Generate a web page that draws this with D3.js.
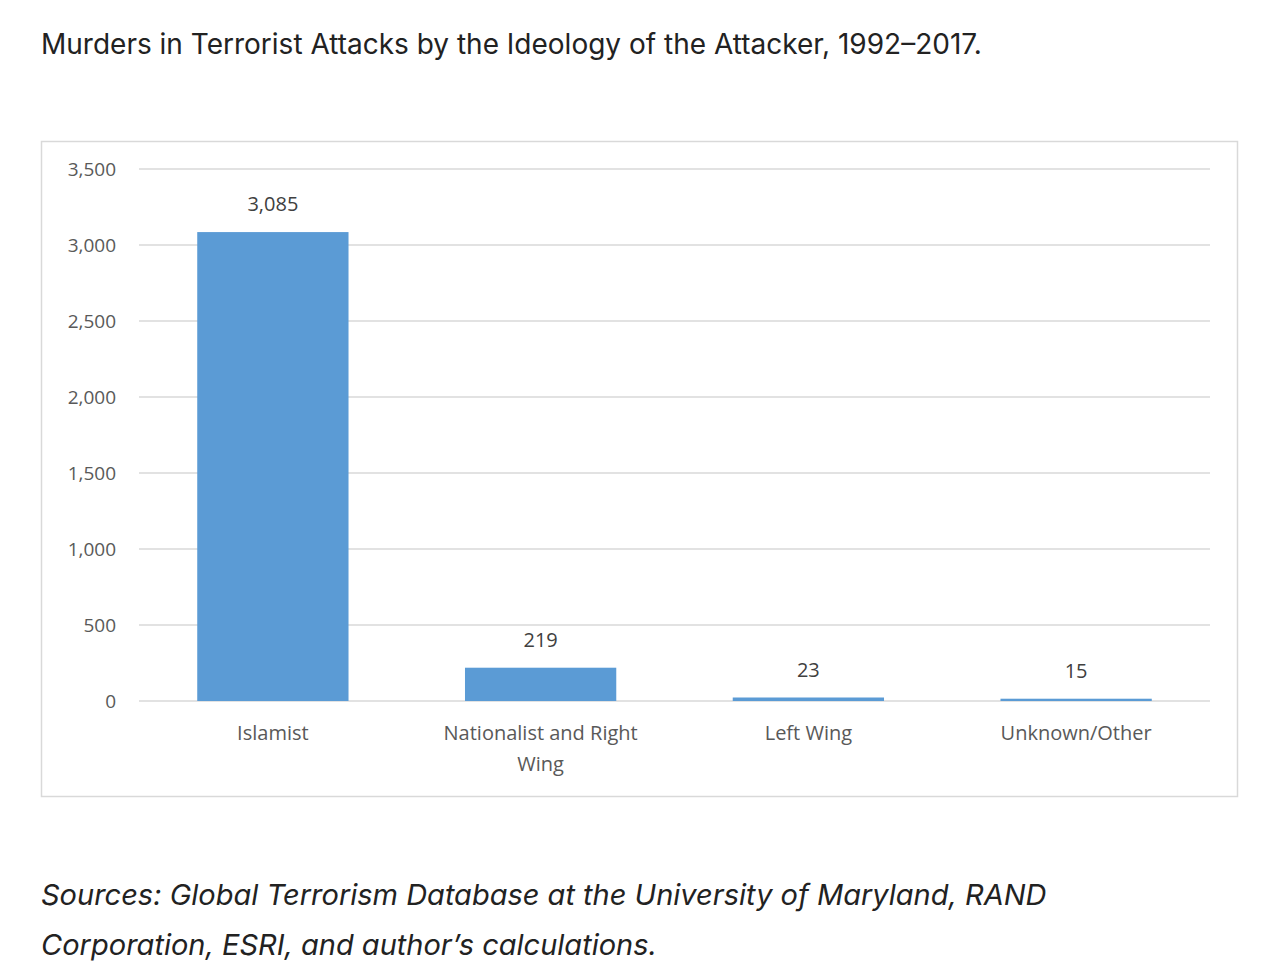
<!DOCTYPE html>
<html>
<head>
<meta charset="utf-8">
<script src="https://cdn.jsdelivr.net/npm/d3@7"></script>
<style>
  body { margin: 0; background: #fff; }
  svg text { font-family: "Open Sans", "Noto Sans", sans-serif; }
  svg text.inter { font-family: "Inter", "Inter Variable", "Inter Display", Roboto, sans-serif; }
</style>
</head>
<body>
<svg id="chart" width="1280" height="978"></svg>
<script>
var categories = ["Islamist", "Nationalist and Right Wing", "Left Wing", "Unknown/Other"];
var values = [3085, 219, 23, 15];
var valueLabels = ["3,085", "219", "23", "15"];
var yTicks = [0, 500, 1000, 1500, 2000, 2500, 3000, 3500];

var svg = d3.select("#chart");

svg.append("text").attr("class", "inter")
  .attr("x", 41).attr("y", 54)
  .attr("font-size", 28).attr("fill", "#222")
  .text("Murders in Terrorist Attacks by the Ideology of the Attacker, 1992\u20132017.");

svg.append("rect")
  .attr("x", 41.5).attr("y", 141.5).attr("width", 1196).attr("height", 655)
  .attr("fill", "#fff").attr("stroke", "#d9d9d9").attr("stroke-width", 1.5);

var x = d3.scaleBand().domain(categories).range([139, 1210]).paddingInner(0.435).paddingOuter(0.2175);
var y = d3.scaleLinear().domain([0, 3500]).range([701, 169]);

svg.append("g").selectAll("line").data(yTicks).enter().append("line")
  .attr("x1", 139).attr("x2", 1210)
  .attr("y1", d => y(d)).attr("y2", d => y(d))
  .attr("stroke", "#d9d9d9").attr("stroke-width", 1.5);

var yAxis = d3.axisLeft(y).tickValues(yTicks).tickFormat(d3.format(",")).tickSize(0).tickPadding(0);
svg.append("g").attr("transform", "translate(116,0)").call(yAxis)
  .call(g => g.select(".domain").remove())
  .selectAll("text").attr("font-size", 19).attr("fill", "#595959");

svg.append("g").selectAll("rect").data(values).enter().append("rect")
  .attr("x", (d, i) => x(categories[i]))
  .attr("width", x.bandwidth())
  .attr("y", d => y(d))
  .attr("height", d => y(0) - y(d))
  .attr("fill", "#5b9bd5");

svg.append("g").selectAll("text").data(values).enter().append("text")
  .attr("x", (d, i) => x(categories[i]) + x.bandwidth() / 2)
  .attr("y", d => y(d) - 21)
  .attr("text-anchor", "middle").attr("font-size", 20).attr("fill", "#404040")
  .text((d, i) => valueLabels[i]);

var catLines = [["Islamist"], ["Nationalist and Right", "Wing"], ["Left Wing"], ["Unknown/Other"]];
var catG = svg.append("g").selectAll("text").data(catLines).enter().append("text")
  .attr("x", (d, i) => x(categories[i]) + x.bandwidth() / 2)
  .attr("y", 740)
  .attr("text-anchor", "middle").attr("font-size", 20).attr("fill", "#595959");
catG.selectAll("tspan").data(d => d).enter().append("tspan")
  .attr("x", function() { return d3.select(this.parentNode).attr("x"); })
  .attr("dy", (d, i) => i === 0 ? 0 : 31)
  .text(d => d);

var src = svg.append("text").attr("class", "inter")
  .attr("font-style", "italic")
  .attr("font-size", 29).attr("fill", "#222");
src.append("tspan").attr("x", 41).attr("y", 905)
  .text("Sources: Global Terrorism Database at the University of Maryland, RAND");
src.append("tspan").attr("x", 41).attr("y", 955)
  .text("Corporation, ESRI, and author\u2019s calculations.");
</script>
</body>
</html>
